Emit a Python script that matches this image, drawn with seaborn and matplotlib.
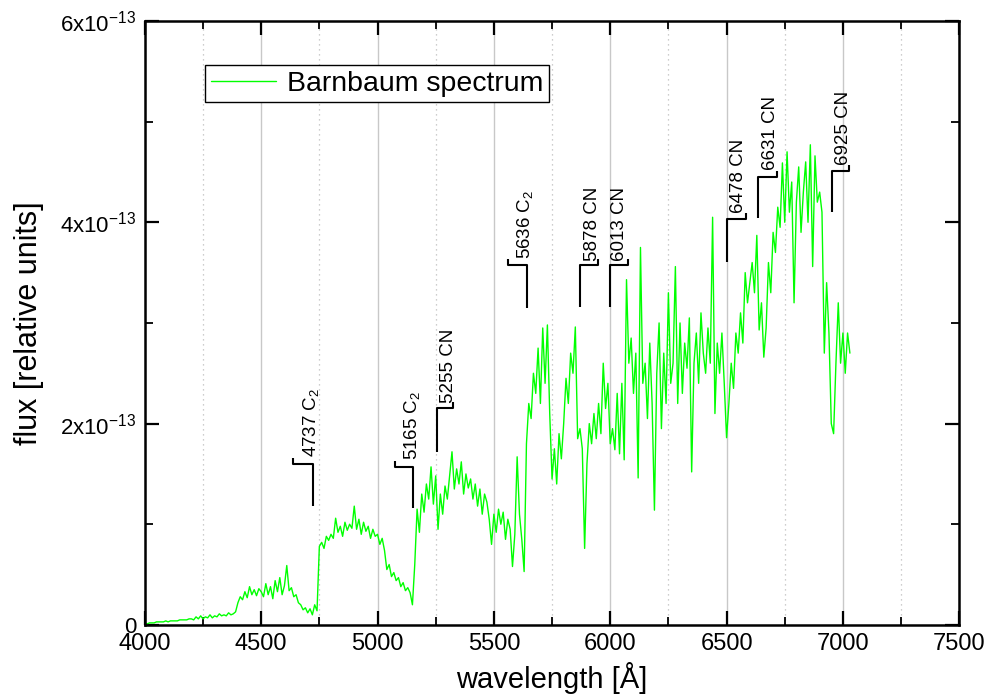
import numpy as np
import pandas as pd
import matplotlib
matplotlib.use("Agg")
import matplotlib.pyplot as plt
from matplotlib.ticker import MultipleLocator, FuncFormatter
import seaborn as sns

# ---------------- data (flux in units of 1e-13) ----------------
wl_start = 4000
wl_step = 10
flux_e13 = [
    # 4000-4090
    0.01, 0.01, 0.02, 0.02, 0.02, 0.03, 0.03, 0.03, 0.03, 0.04,
    # 4100-4190
    0.03, 0.04, 0.04, 0.04, 0.04, 0.05, 0.05, 0.05, 0.05, 0.06,
    # 4200-4290
    0.06, 0.05, 0.08, 0.06, 0.09, 0.06, 0.08, 0.07, 0.10, 0.07,
    # 4300-4390
    0.09, 0.08, 0.11, 0.09, 0.10, 0.09, 0.12, 0.10, 0.11, 0.13,
    # 4400-4490
    0.22, 0.28, 0.25, 0.33, 0.27, 0.38, 0.30, 0.35, 0.29, 0.36,
    # 4500-4590
    0.33, 0.28, 0.41, 0.30, 0.38, 0.26, 0.44, 0.33, 0.47, 0.30,
    # 4600-4690
    0.39, 0.59, 0.34, 0.37, 0.28, 0.30, 0.22, 0.20, 0.15, 0.17,
    # 4700-4790
    0.12, 0.16, 0.10, 0.20, 0.14, 0.78, 0.82, 0.76, 0.88, 0.84,
    # 4800-4890
    0.90, 0.86, 1.06, 0.92, 0.98, 0.88, 1.02, 0.94, 1.00, 0.96,
    # 4900-4990
    1.18, 0.95, 1.05, 0.90, 1.02, 0.93, 0.98, 0.86, 0.95, 0.88,
    # 5000-5090
    0.90, 0.80, 0.86, 0.74, 0.55, 0.60, 0.48, 0.52, 0.44, 0.47,
    # 5100-5190
    0.38, 0.42, 0.34, 0.37, 0.32, 0.20, 0.60, 1.15, 0.92, 1.30,
    # 5200-5290
    1.12, 1.40, 1.25, 1.57, 1.20, 1.48, 0.95, 1.30, 1.10, 1.38,
    # 5300-5390
    1.25, 1.48, 1.72, 1.35, 1.55, 1.40, 1.62, 1.30, 1.50, 1.36,
    # 5400-5490
    1.45, 1.25, 1.40, 1.18, 1.35, 1.10, 1.30, 1.22, 1.05, 0.80,
    # 5500-5590
    1.10, 0.92, 1.15, 1.00, 1.12, 0.85, 1.05, 0.95, 0.58, 0.90,
    # 5600-5690
    1.67, 1.10, 0.85, 0.53, 1.80, 2.20, 2.05, 2.50, 2.30, 2.75,
    # 5700-5790
    2.20, 2.95, 2.40, 2.98, 2.10, 1.45, 1.75, 1.40, 1.90, 1.65,
    # 5800-5890
    2.00, 2.45, 2.20, 2.70, 2.50, 2.96, 1.85, 1.95, 1.75, 0.76,
    # 5900-5990
    1.60, 2.00, 1.80, 2.10, 1.85, 2.20, 1.90, 2.60, 2.15, 2.40,
    # 6000-6090
    1.80, 1.95, 1.74, 2.30, 1.70, 2.40, 1.64, 3.43, 2.60, 2.85,
    # 6100-6190
    2.30, 2.70, 1.46, 3.75, 2.40, 2.60, 2.05, 2.80, 2.20, 1.14,
    # 6200-6290
    2.50, 3.00, 1.95, 2.70, 2.20, 3.30, 2.40, 2.60, 3.56, 2.20,
    # 6300-6390
    3.00, 2.30, 2.80, 2.55, 3.05, 1.52, 2.60, 2.90, 2.40, 3.10,
    # 6400-6490
    2.70, 2.50, 2.95, 2.60, 4.05, 2.10, 2.80, 2.50, 2.90, 2.40,
    # 6500-6590
    1.86, 2.20, 2.60, 2.35, 2.90, 2.70, 3.10, 2.80, 3.50, 3.20,
    # 6600-6690
    3.40, 3.60, 3.30, 3.87, 2.93, 3.20, 2.66, 2.95, 3.60, 3.30,
    # 6700-6790
    3.90, 3.70, 4.15, 3.95, 4.59, 4.00, 4.70, 4.10, 4.40, 3.20,
    # 6800-6890
    4.20, 4.55, 3.90, 4.30, 4.60, 4.00, 4.77, 3.56, 4.66, 4.20,
    # 6900-6990
    4.30, 4.10, 2.70, 3.40, 2.90, 2.00, 1.90, 2.60, 3.20, 2.60,
    # 7000-7030
    2.90, 2.50, 2.90, 2.70,
]

# line identifications
line_labels = [r"4737 C$_2$", r"5165 C$_2$", "5255 CN", r"5636 C$_2$",
               "5878 CN", "6013 CN", "6478 CN", "6631 CN", "6925 CN"]
bracket_x = [4722, 5152, 5255, 5642, 5870, 5999, 6503, 6636, 6954]
bracket_end_x = [4636, 5075, 5324, 5561, 5948, 6077, 6584, 6717, 7027]
bracket_top = [1.60, 1.57, 2.15, 3.575, 3.575, 3.575, 4.03, 4.45, 4.51]
bracket_bottom = [1.18, 1.16, 1.72, 3.15, 3.16, 3.16, 3.61, 4.04, 4.10]
label_x = [4716, 5146, 5307, 5634, 5922, 6042, 6550, 6687, 7001]
label_y = [1.67, 1.64, 2.20, 3.64, 3.62, 3.62, 4.09, 4.52, 4.57]

x_ticks = [4000, 4500, 5000, 5500, 6000, 6500, 7000, 7500]

# ---------------- build ----------------
wl = wl_start + wl_step * np.arange(len(flux_e13))
df = pd.DataFrame({"wavelength": wl, "flux": np.array(flux_e13) * 1e-13})

sns.set_style("ticks")
plt.rcParams["font.family"] = ["Liberation Sans", "DejaVu Sans"]
plt.rcParams["mathtext.fontset"] = "custom"
plt.rcParams["mathtext.rm"] = "Liberation Sans"
plt.rcParams["mathtext.it"] = "Liberation Sans"
plt.rcParams["mathtext.default"] = "regular"
for key in ["text.color", "axes.labelcolor", "xtick.color", "ytick.color",
            "axes.edgecolor"]:
    plt.rcParams[key] = "black"

fig = plt.figure(figsize=(9.92, 6.99), dpi=100)
ax = fig.add_axes([0.146, 0.106, 0.821, 0.864])

sns.lineplot(data=df, x="wavelength", y="flux", ax=ax, color="#00ff00",
             linewidth=1.0, sort=False, estimator=None,
             label="Barnbaum spectrum")

ax.set_xlim(4000, 7500)
ax.set_ylim(0, 6e-13)
ax.set_xticks(x_ticks)
ax.xaxis.set_minor_locator(MultipleLocator(250))
ax.yaxis.set_major_locator(MultipleLocator(2e-13))
ax.yaxis.set_minor_locator(MultipleLocator(1e-13))


def yfmt(v, pos):
    n = int(round(v / 1e-13))
    if n == 0:
        return "0"
    return r"$%d\mathrm{x}10^{-13}$" % n


ax.yaxis.set_major_formatter(FuncFormatter(yfmt))

ax.grid(which="major", axis="x", color="#c8c8c8", linewidth=1.0, linestyle="-")
ax.grid(which="minor", axis="x", color="#bdbdbd", linewidth=0.9,
        linestyle=(0, (1, 3)))
ax.grid(which="both", axis="y", visible=False)
ax.set_axisbelow(True)

for s in ax.spines.values():
    s.set_linewidth(1.8)
    s.set_color("black")

ax.tick_params(which="major", direction="in", length=10, width=1.6,
               top=True, right=True, labelsize=17, pad=6, colors="black")
ax.tick_params(which="minor", direction="in", length=6, width=1.3,
               top=True, right=True, colors="black")
ax.tick_params(axis="y", labelsize=16)

ax.set_xlabel("wavelength [Å]", fontsize=21, labelpad=5, color="black")
ax.set_ylabel("flux [relative units]", fontsize=22, labelpad=12, color="black")

# line markers
for lab, xv, xe, yt, yb, lx, ly in zip(line_labels, bracket_x, bracket_end_x,
                                       bracket_top, bracket_bottom,
                                       label_x, label_y):
    yt_ = yt * 1e-13
    ax.plot([xv, xv, xe, xe], [yb * 1e-13, yt_, yt_, yt_ + 0.06e-13],
            color="black", linewidth=1.5, solid_capstyle="butt")
    ax.text(lx, ly * 1e-13, lab, rotation=90, ha="center", va="bottom",
            fontsize=13.5, color="black")

leg = ax.legend(loc="upper left", bbox_to_anchor=(0.0737, 0.927),
                borderaxespad=0, fontsize=20.5, frameon=True, fancybox=False,
                shadow=False, framealpha=1, edgecolor="black",
                handlelength=2.3, handletextpad=0.4, borderpad=0.2)
leg.get_frame().set_linewidth(1.0)
for t in leg.get_texts():
    t.set_color("black")

fig.savefig("out.png", dpi=100)
